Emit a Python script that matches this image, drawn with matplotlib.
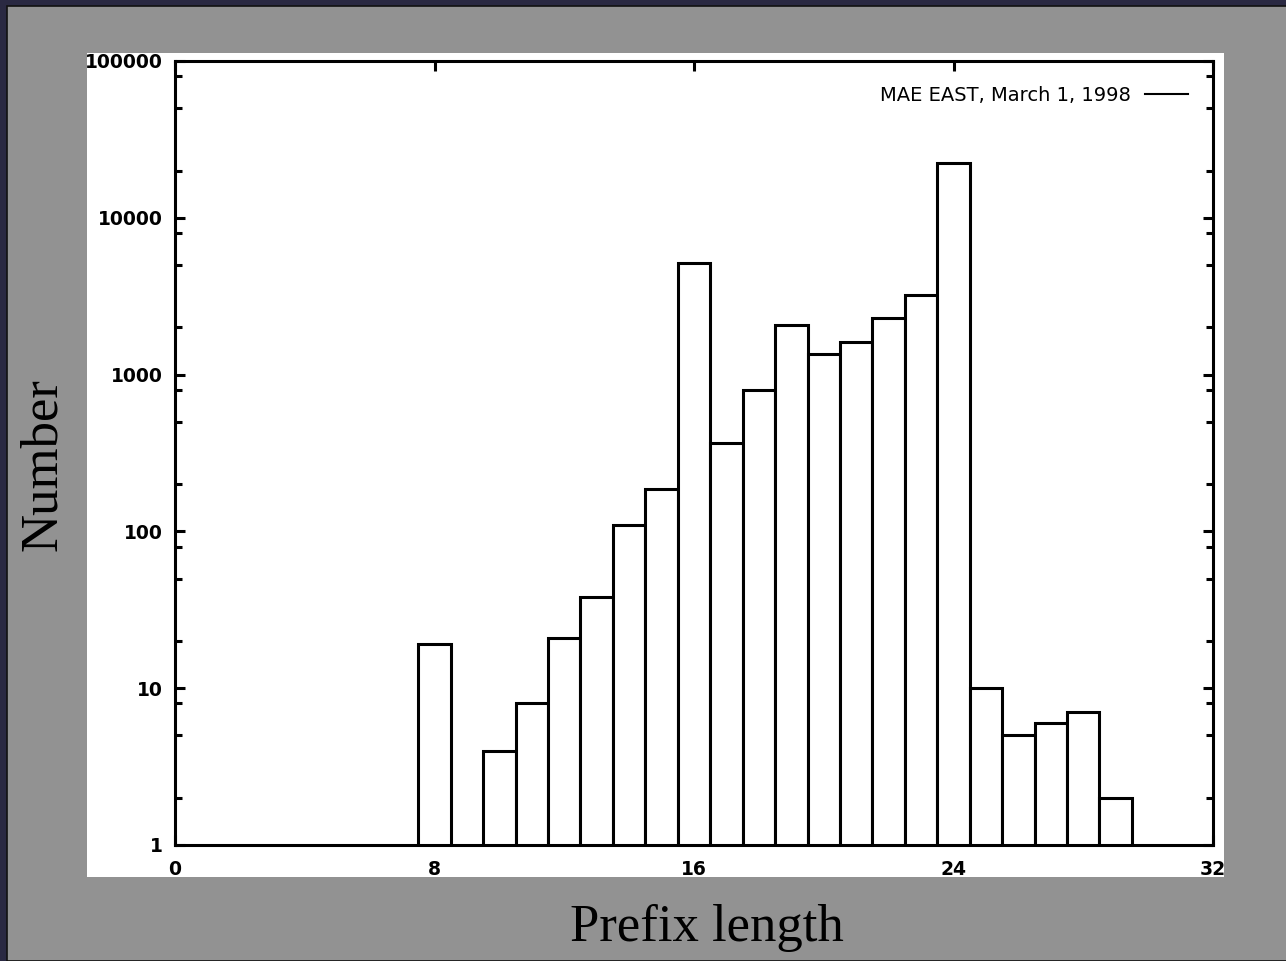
import matplotlib
matplotlib.use("Agg")
import matplotlib.pyplot as plt
from matplotlib.patches import Rectangle
from matplotlib.lines import Line2D
from matplotlib.transforms import Bbox, TransformedBbox
from matplotlib.ticker import LogLocator, FixedLocator, NullFormatter

# prefix length -> number of routes (MAE EAST, March 1, 1998)
prefix_len = [8, 10, 11, 12, 13, 14, 15, 16, 17, 18, 19, 20, 21, 22, 23, 24, 25, 26, 27, 28, 29]
counts = [19, 4, 8, 21, 38, 110, 186, 5150, 366, 800, 2070, 1350, 1620, 2290, 3220, 22300, 10, 5, 6, 7, 2]
series_name = "MAE EAST, March 1, 1998"
x_ticks = [0, 8, 16, 24, 32]
y_ticks = [1, 10, 100, 1000, 10000, 100000]

W, H = 1286, 961
fig = plt.figure(figsize=(W/100, H/100), dpi=100)
fig.patch.set_facecolor("#2a2942")

# grey slide panel and white plot card
fig.add_artist(Rectangle((7/W, 0), 1, 1-6/H, transform=fig.transFigure,
                         facecolor="#929292", edgecolor="#111111", lw=1.2, zorder=0))
card_box = [87/W, 1-877/H, (1224-87)/W, (877-53)/H]
fig.add_artist(Rectangle(card_box[:2], card_box[2], card_box[3], transform=fig.transFigure,
                         facecolor="white", edgecolor="none", zorder=0))

ax = fig.add_axes([175/W, 1-845/H, (1213-175)/W, (845-61)/H])
ax.set_facecolor("white")
ax.bar(prefix_len, counts, width=1.0, align="center", facecolor="white",
       edgecolor="black", linewidth=2.2, zorder=2)
ax.set_yscale("log")
ax.set_xlim(0, 32)
ax.set_ylim(1, 100000)

ax.xaxis.set_major_locator(FixedLocator(x_ticks))
ax.set_xticklabels([str(t) for t in x_ticks])
ax.yaxis.set_major_locator(FixedLocator(y_ticks))
ax.set_yticklabels([str(t) for t in y_ticks])
ax.yaxis.set_minor_locator(LogLocator(base=10, subs=[2, 5, 8]))
ax.yaxis.set_minor_formatter(NullFormatter())

for s in ax.spines.values():
    s.set_linewidth(2.2)
    s.set_zorder(3)
ax.tick_params(which="both", direction="in", top=True, right=True, width=2.2, colors="black")
ax.tick_params(which="major", length=7.5, labelsize=13.5, pad=9)
ax.tick_params(which="minor", length=5)
ax.tick_params(axis="x", which="major", pad=11)

# tick labels are cut off at the edge of the white card, as in the slide
clip = TransformedBbox(Bbox.from_bounds(*card_box), fig.transFigure)
for lbl in ax.get_xticklabels() + ax.get_yticklabels():
    lbl.set_fontfamily("DejaVu Sans")
    lbl.set_fontweight("bold")
    lbl.set_clip_box(clip)
    lbl.set_clip_on(True)

ax.legend([Line2D([], [], color="black", lw=1.5)], [series_name], loc="upper right",
          frameon=False, markerfirst=False, handlelength=2.2, handletextpad=0.7,
          borderaxespad=0.9, prop={"family": "DejaVu Sans", "size": 14})

fig.text(707/W, 1-928/H, "Prefix length", ha="center", va="center",
         family="Liberation Serif", fontsize=38, color="black")
fig.text(43/W, 1-465/H, "Number", ha="center", va="center", rotation=90,
         family="Liberation Serif", fontsize=38, color="black")

fig.savefig("out.png", dpi=100, facecolor=fig.get_facecolor())
